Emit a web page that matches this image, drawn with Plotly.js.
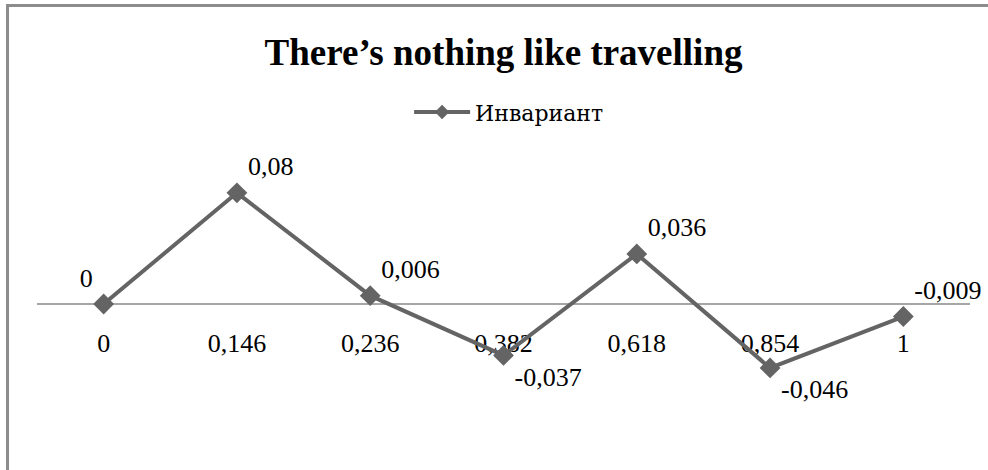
<!DOCTYPE html>
<html>
<head>
<meta charset="utf-8">
<script src="https://cdn.plot.ly/plotly-3.0.1.min.js"></script>
<style>
  html, body { margin: 0; padding: 0; background: #fff; }
  #wrap { position: relative; width: 988px; height: 470px; }
  #chart { position: absolute; left: 0; top: 0; width: 988px; height: 470px; }
  #frame { position: absolute; left: 6px; top: 4px; width: 990px; height: 480px;
           border-left: 3px solid #8c8c8c; border-top: 3px solid #8c8c8c; pointer-events: none; }
</style>
</head>
<body>
<div id="wrap">
  <div id="chart"></div>
  <div id="frame"></div>
</div>
<script>
const categories = ["0", "0,146", "0,236", "0,382", "0,618", "0,854", "1"];
const values = [0, 0.08, 0.006, -0.037, 0.036, -0.046, -0.009];
const valueLabels = ["0", "0,08", "0,006", "-0,037", "0,036", "-0,046", "-0,009"];
const labelPositions = ["top left", "top right", "top right", "bottom right", "top right", "bottom right", "top right"];
const seriesName = "Инвариант";
const chartTitle = "There’s nothing like travelling";

const serif = "'Liberation Serif', 'DejaVu Serif', 'Times New Roman', serif";
const cyrSerif = "'DejaVu Serif', 'Liberation Serif', serif";

const trace = {
  type: "scatter",
  mode: "lines+markers+text",
  x: categories,
  y: values,
  name: seriesName,
  legendgroup: "s",
  showlegend: false,
  text: valueLabels,
  textposition: labelPositions,
  textfont: { family: serif, size: 26, color: "#000" },
  line: { color: "#646464", width: 4 },
  marker: { symbol: "diamond", size: 16, color: "#646464" },
  cliponaxis: false
};

// legend entry for the same series (no plotted points)
const legendTrace = {
  type: "scatter",
  mode: "lines+markers",
  x: [null],
  y: [null],
  name: seriesName,
  legendgroup: "s",
  showlegend: true,
  line: { color: "#646464", width: 4 },
  marker: { symbol: "diamond", size: 11, color: "#646464" }
};

const layout = {
  width: 988,
  height: 470,
  margin: { l: 37, r: 18, t: 165, b: 27 },
  paper_bgcolor: "#fff",
  plot_bgcolor: "#fff",
  font: { family: serif, color: "#000" },
  title: {
    text: "<b>" + chartTitle + "</b>",
    font: { family: serif, size: 37, color: "#000" },
    x: 0.5, xref: "paper", xanchor: "center",
    y: 1 - 52 / 470, yref: "container", yanchor: "middle"
  },
  showlegend: true,
  legend: {
    orientation: "h",
    x: 0.506, xanchor: "center",
    y: 1.19, yanchor: "middle",
    itemwidth: 56,
    font: { family: cyrSerif, size: 22, color: "#000" },
    bgcolor: "rgba(0,0,0,0)"
  },
  xaxis: {
    type: "category",
    range: [-0.5, 6.5],
    anchor: "free",
    position: 0.5,
    showline: true,
    linecolor: "#a6a6a6",
    linewidth: 2,
    showgrid: false,
    zeroline: false,
    ticks: "",
    ticklabelstandoff: 16,
    tickfont: { family: serif, size: 26, color: "#000" },
    layer: "below traces",
    fixedrange: true
  },
  yaxis: {
    range: [-0.1, 0.1],
    visible: false,
    showgrid: false,
    zeroline: false,
    fixedrange: true
  }
};

Plotly.newPlot("chart", [trace, legendTrace], layout, { displayModeBar: false, staticPlot: true });
</script>
</body>
</html>
